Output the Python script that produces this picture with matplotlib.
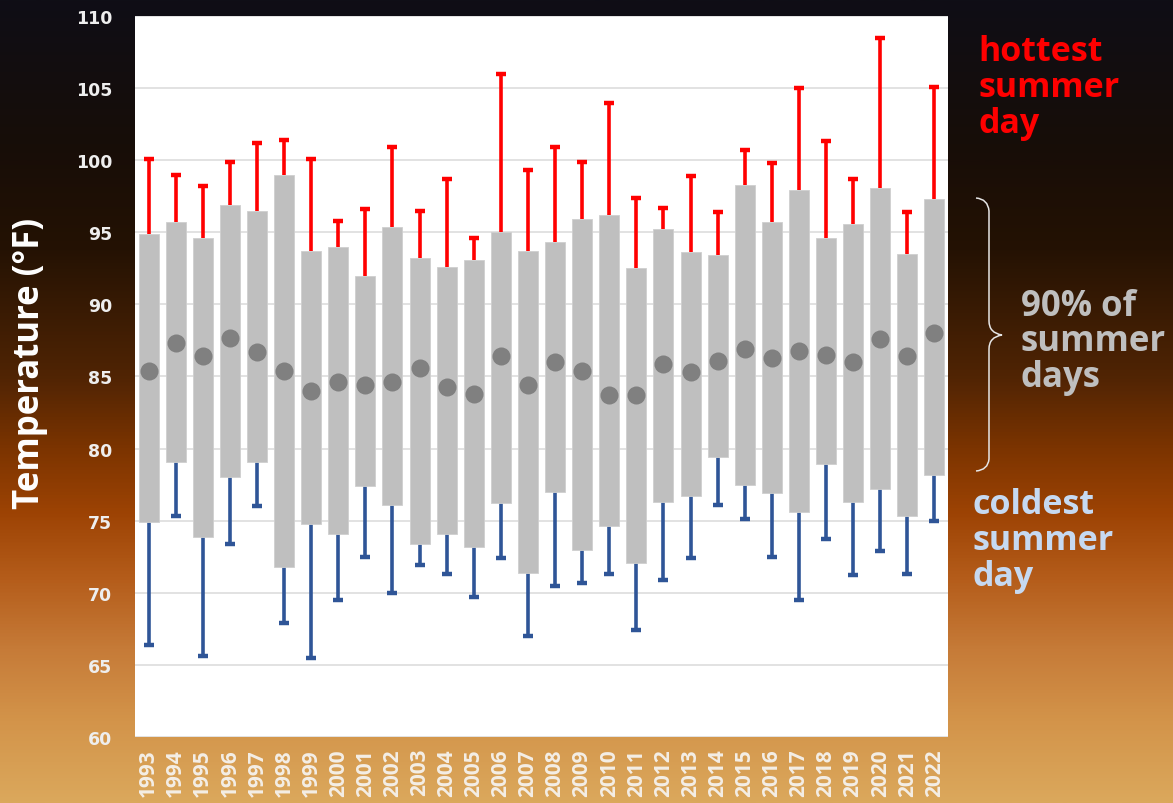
import numpy as np
import matplotlib
matplotlib.use("Agg")
import matplotlib.pyplot as plt
from matplotlib.colors import LinearSegmentedColormap
from matplotlib.path import Path
from matplotlib.patches import PathPatch

years = [str(y) for y in range(1993, 2023)]
hottest = [100.1, 99.0, 98.2, 99.9, 101.2, 101.4, 100.1, 95.8, 96.6, 100.9,
           96.5, 98.7, 94.6, 106.0, 99.3, 100.9, 99.9, 104.0, 97.4, 96.7,
           98.9, 96.4, 100.7, 99.8, 105.0, 101.3, 98.7, 108.5, 96.4, 105.1]
p95 = [94.9, 95.7, 94.6, 96.9, 96.5, 98.95, 93.7, 94.0, 92.0, 95.4,
       93.2, 92.6, 93.1, 95.0, 93.7, 94.3, 95.9, 96.2, 92.5, 95.2,
       93.6, 93.4, 98.3, 95.7, 97.9, 94.6, 95.6, 98.1, 93.5, 97.3]
p5 = [74.9, 79.1, 73.9, 78.0, 79.1, 71.8, 74.8, 74.05, 77.4, 76.1,
      73.4, 74.1, 73.2, 76.2, 71.4, 77.0, 73.0, 74.6, 72.1, 76.3,
      76.7, 79.4, 77.5, 76.9, 75.6, 78.9, 76.3, 77.2, 75.3, 78.2]
coldest = [66.4, 75.3, 65.6, 73.4, 76.0, 67.9, 65.5, 69.5, 72.5, 70.0,
           71.9, 71.3, 69.7, 72.4, 67.0, 70.5, 70.7, 71.3, 67.4, 70.9,
           72.4, 76.1, 75.1, 72.5, 69.5, 73.7, 71.2, 72.9, 71.3, 75.0]
mean = [85.4, 87.3, 86.4, 87.7, 86.7, 85.4, 84.0, 84.6, 84.4, 84.6,
        85.6, 84.3, 83.8, 86.4, 84.4, 86.0, 85.4, 83.7, 83.7, 85.9,
        85.3, 86.1, 86.9, 86.3, 86.8, 86.5, 86.0, 87.6, 86.4, 88.0]
yticks = [60, 65, 70, 75, 80, 85, 90, 95, 100, 105, 110]

W, H = 1173, 804
fig = plt.figure(figsize=(W / 100, H / 100), dpi=100)

# background gradient
bg = fig.add_axes([0, 0, 1, 1], zorder=-10)
stops = [(0.0, '#0f0e16'), (0.18, '#170d08'), (0.31, '#241203'), (0.47, '#502404'),
         (0.56, '#7c3400'), (0.64, '#9d4304'), (0.72, '#b45c1a'), (0.81, '#c67b38'),
         (0.90, '#d3944a'), (1.0, '#dba85c')]
cmap = LinearSegmentedColormap.from_list('bg', stops)
grad = np.linspace(0, 1, 512).reshape(-1, 1)
bg.imshow(grad, aspect='auto', cmap=cmap, extent=[0, 1, 0, 1], origin='upper')
bg.set_axis_off()

L, R, T, B = 135, 948, 17, 738
ax = fig.add_axes([L / W, 1 - B / H, (R - L) / W, (B - T) / H])
ax.set_facecolor('white')
x = np.arange(len(years))
lo = np.array(p5)
hi = np.array(p95)

ax.set_ylim(60, 110)
ax.set_xlim(-0.5, len(years) - 0.5)
for v in yticks:
    ax.axhline(v, color='#DDDDDD', lw=1.2, zorder=0)

ax.vlines(x, hi, hottest, color='#FF0000', lw=2.6, zorder=1)
ax.plot(x, hottest, ls='none', marker='_', ms=7.5, mew=3.2, color='#FF0000', zorder=1)
ax.vlines(x, coldest, lo, color='#2F5597', lw=2.6, zorder=1)
ax.plot(x, coldest, ls='none', marker='_', ms=7.5, mew=3.2, color='#2F5597', zorder=1)
ax.bar(x, hi - lo, bottom=lo, width=0.74, color='#BFBFBF', edgecolor='#CFCFCF',
       linewidth=0.6, zorder=2)
ax.plot(x, mean, ls='none', marker='o', ms=13, color='#808080', mec='none', zorder=3)

for s in ax.spines.values():
    s.set_visible(False)
ax.set_yticks(yticks)
ax.set_yticklabels([str(v) for v in yticks], fontsize=12.5, fontweight='bold',
                   color='#EEEEEE', family='DejaVu Sans')
ax.tick_params(axis='y', length=0, pad=16.5)
ax.set_xticks(x)
ax.set_xticklabels(years, rotation=90, fontsize=15, fontweight='bold',
                   color='#F4EEE6', family='Open Sans', va='top')
ax.tick_params(axis='x', length=0, pad=8)

fig.text(30 / W, 1 - 363 / H, 'Temperature (°F)', rotation=90, ha='center', va='center',
         fontsize=25, fontweight='bold', color='white', family='Open Sans')


def line_texts(lines, x0, baselines, color, size=24.5):
    for txt, yb in zip(lines, baselines):
        fig.text(x0 / W, 1 - yb / H, txt, ha='left', va='baseline', fontsize=size,
                 fontweight='bold', color=color, family='Open Sans')


line_texts(['hottest', 'summer', 'day'], 978, [61, 97, 133], '#FF0000')
line_texts(['90% of', 'summer', 'days'], 1021, [316, 351.5, 387], '#BFBFBF', 25)
line_texts(['coldest', 'summer', 'day'], 973, [514, 550, 586], '#C6D9F1')

# brace
def P(px, py):
    return (px / W, 1 - py / H)

verts = [P(976, 199), P(988, 200), P(989, 212),
         P(989, 322),
         P(989, 334), P(1002, 336),
         P(989, 338), P(989, 350),
         P(989, 460),
         P(988, 471), P(976, 472)]
codes = [Path.MOVETO, Path.CURVE3, Path.CURVE3,
         Path.LINETO,
         Path.CURVE3, Path.CURVE3,
         Path.CURVE3, Path.CURVE3,
         Path.LINETO,
         Path.CURVE3, Path.CURVE3]
fig.add_artist(PathPatch(Path(verts, codes), transform=fig.transFigure, fill=False,
                         edgecolor='#E6E6E6', lw=1.1))

fig.savefig('out.png', dpi=100)
